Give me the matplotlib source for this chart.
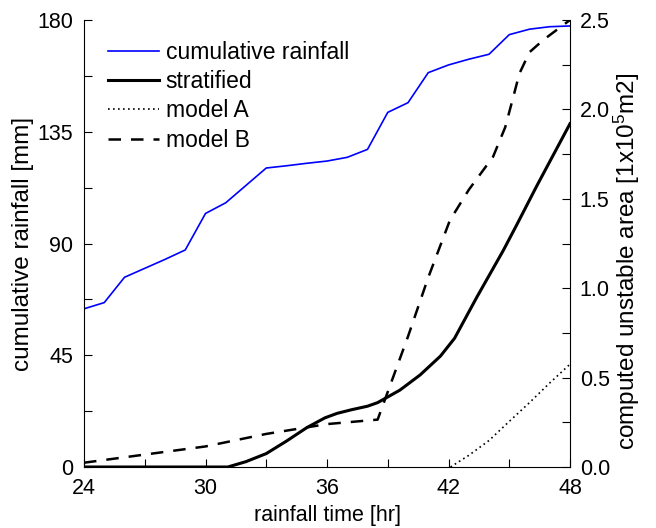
import matplotlib.pyplot as plt
from matplotlib.ticker import MultipleLocator

plt.rcParams['font.family'] = ['Liberation Sans', 'DejaVu Sans']
plt.rcParams['mathtext.fontset'] = 'custom'
plt.rcParams['mathtext.rm'] = 'Liberation Sans'
plt.rcParams['mathtext.it'] = 'Liberation Sans'

# cumulative rainfall (left axis, mm), hourly
rain_t = list(range(24, 49))
rain_mm = [63.7, 66.2, 76.4, 80.0, 83.6, 87.4, 102.1, 106.4, 113.4, 120.4, 121.3,
           122.3, 123.2, 124.7, 127.9, 142.8, 146.7, 158.8, 161.9, 164.2, 166.2,
           174.1, 176.3, 177.3, 177.6]

# computed unstable area (right axis, 1e5 m2)
strat_t = [24, 31.1, 32.0, 33.0, 34.0, 35.0, 35.9, 36.5, 37.2, 38.0, 38.5, 39.6,
           40.6, 41.6, 42.3, 43.4, 44.7, 45.35, 46.35, 48]
strat_a = [0, 0, 0.03, 0.075, 0.145, 0.22, 0.275, 0.30, 0.32, 0.34, 0.36, 0.43,
           0.515, 0.62, 0.72, 0.95, 1.21, 1.35, 1.57, 1.92]

modA_t = [42.1, 43, 44, 45, 46, 47, 48]
modA_a = [0, 0.065, 0.148, 0.255, 0.36, 0.47, 0.575]

modB_t = [24, 30, 33, 36, 38.5, 39, 40, 41, 42.07, 43.0, 44.2, 44.8, 45.2, 45.5,
          46.0, 46.7, 48]
modB_a = [0.024, 0.115, 0.185, 0.24, 0.265, 0.42, 0.73, 1.06, 1.38, 1.55, 1.735,
          1.90, 2.07, 2.2, 2.32, 2.39, 2.5]

fs = 15.5

fig = plt.figure(figsize=(6.56, 5.28), dpi=100)
ax = fig.add_axes([84/656, 1 - 467/528, 486/656, 447/528])
ax2 = ax.twinx()

l1, = ax.plot(rain_t, rain_mm, color='#0000ff', lw=1.2, label='cumulative rainfall')
l2, = ax2.plot(strat_t, strat_a, color='black', lw=2.2, label='stratified')
l3, = ax2.plot(modA_t, modA_a, color='black', lw=1.2, ls=(0, (1, 2)), label='model A')
l4, = ax2.plot(modB_t, modB_a, color='black', lw=1.8, ls=(0, (5, 4)), label='model B')

ax.set_xlim(24, 48)
ax.set_ylim(0, 180)
ax2.set_ylim(0, 2.5)

ax.xaxis.set_major_locator(MultipleLocator(6))
ax.xaxis.set_minor_locator(MultipleLocator(3))
ax.yaxis.set_major_locator(MultipleLocator(45))
ax.yaxis.set_minor_locator(MultipleLocator(22.5))
ax2.yaxis.set_major_locator(MultipleLocator(0.5))
ax2.yaxis.set_minor_locator(MultipleLocator(0.25))
ax2.set_yticklabels([f'{v:.1f}' for v in ax2.get_yticks()])

for a in (ax, ax2):
    a.spines['top'].set_visible(False)
    a.tick_params(which='both', direction='in', length=6, width=0.8, labelsize=fs)
ax.spines['right'].set_visible(False)
ax2.spines['left'].set_visible(False)
ax2.spines['bottom'].set_visible(False)
ax.tick_params(axis='y', which='both', right=False, pad=8)
ax.tick_params(axis='x', which='both', top=False, pad=8)
ax2.tick_params(axis='y', which='both', left=False, pad=7)

ax.set_xlabel('rainfall time [hr]', fontsize=fs, labelpad=4)
ax.set_ylabel('cumulative rainfall [mm]', fontsize=17.5, labelpad=2)
ax2.set_ylabel('computed unstable area [1x10$^5$m2]', fontsize=17.5)
ax2.yaxis.set_label_coords(1.087, 0.46)

ax2.legend(handles=[l1, l2, l3, l4], loc='upper left', bbox_to_anchor=(0.05, 0.953),
           frameon=False, fontsize=16.5, borderpad=0, borderaxespad=0,
           handlelength=2.2, handletextpad=0.3, labelspacing=0.27)

fig.savefig('out.png', dpi=100)
